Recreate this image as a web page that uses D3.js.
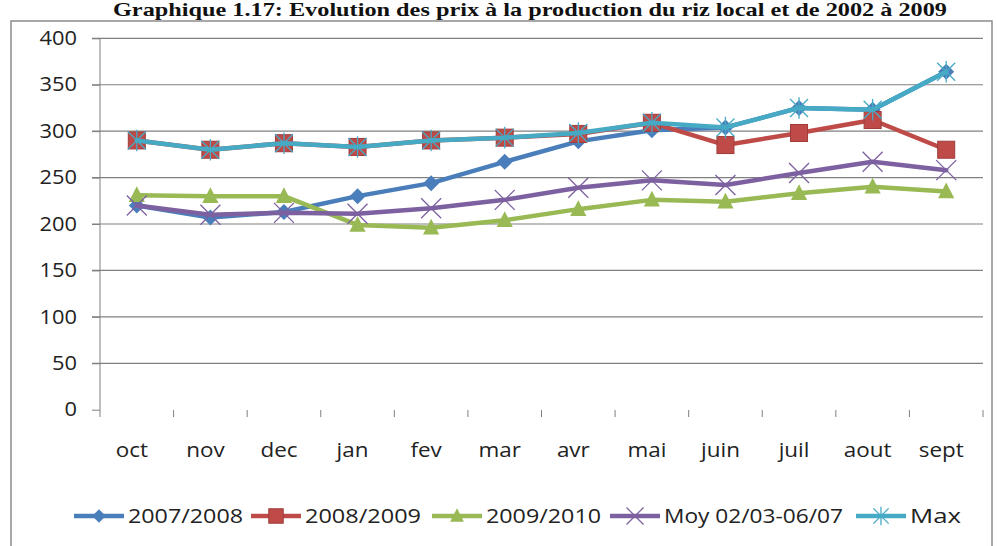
<!DOCTYPE html>
<html><head><meta charset="utf-8">
<script src="https://cdn.jsdelivr.net/npm/d3@7"></script>
<style>body{margin:0;background:#fff}svg{display:block}</style>
</head><body><svg id="c" width="997" height="546"></svg>
<script>
const months = ["oct","nov","dec","jan","fev","mar","avr","mai","juin","juil","aout","sept"];
const yTicks = [0,50,100,150,200,250,300,350,400];
const s2007 = [220,207,213,230,244,267,289,301,304,325,323,364];
const s2008 = [290,280,287,283,290,293,297,309,285,298,312,280];
const s2009 = [231,230,230,199,196,204,216,226,224,233,240,235];
const sMoy  = [220,210,212,211,217,226,239,247,242,255,267,258];
const sMax  = [290,280,287,283,290,293,298,309,304,325,323,364];
const seriesNames = ["2007/2008","2008/2009","2009/2010","Moy 02/03-06/07","Max"];
const seriesData = [s2007,s2008,s2009,sMoy,sMax];
const colors = ["#4A7EBB","#BE4B48","#98B954","#7D60A0","#46AAC5"];
const markers = ["diamond","square","triangle","x","star"];

const svg = d3.select("#c");
const font = "'Open Sans', sans-serif";
function stretch(sel, k){
  sel.each(function(){
    const w = this.getComputedTextLength();
    d3.select(this).attr("textLength", w*k).attr("lengthAdjust","spacingAndGlyphs");
  });
}

// title
const title = svg.append("text").attr("x",530).attr("y",16).attr("text-anchor","middle")
  .attr("font-family","'Liberation Serif', serif").attr("font-weight","bold").attr("font-size",19)
  .attr("fill","#111")
  .text("Graphique  1.17: Evolution des prix  à la production du riz local et  de 2002 à 2009");
title.attr("textLength",834).attr("lengthAdjust","spacingAndGlyphs");

// outer frame
svg.append("rect").attr("x",11).attr("y",21).attr("width",981).attr("height",540)
  .attr("fill","none").attr("stroke","#8c8c8c").attr("stroke-width",1.5);

const x = d3.scaleBand().domain(months).range([100,983]);
const y = d3.scaleLinear().domain([0,400]).range([409.7,38.3]);

// gridlines
svg.append("g").selectAll("line").data(yTicks.filter(d=>d>0)).join("line")
  .attr("x1",92).attr("x2",983).attr("y1",d=>y(d)).attr("y2",d=>y(d))
  .attr("stroke","#808080").attr("stroke-width",1.2);

// y axis
const yAxis = d3.axisLeft(y).tickValues(yTicks).tickSize(8).tickPadding(15);
const gy = svg.append("g").attr("transform","translate(100,0)").call(yAxis);
gy.select(".domain").attr("stroke","#808080").attr("d","M0,38.3V417");
gy.selectAll(".tick line").attr("stroke","#808080");
gy.selectAll(".tick text").attr("font-family",font).attr("font-size",19.5).attr("fill","#222");
stretch(gy.selectAll(".tick text"),1.12);

// x axis labels (no baseline)
const xAxis = d3.axisBottom(x).tickSize(0).tickPadding(0);
const gx = svg.append("g").attr("transform","translate(0,409.7)").call(xAxis);
gx.select(".domain").remove();
gx.selectAll(".tick text").attr("font-family",font).attr("font-size",19.5).attr("fill","#222")
  .attr("dy","0").attr("y",47).attr("dx",-5);
stretch(gx.selectAll(".tick text"),1.15);
svg.append("g").selectAll("line").data(months).join("line")
  .attr("x1",d=>x(d)+x.bandwidth()).attr("x2",d=>x(d)+x.bandwidth())
  .attr("y1",410).attr("y2",417).attr("stroke","#808080");

function drawMarker(g, type, col, cx, cy, scale){
  scale = scale||1;
  if(type==="diamond"){
    const r=8*scale;
    g.append("path").attr("d",`M${cx},${cy-r}L${cx+r},${cy}L${cx},${cy+r}L${cx-r},${cy}Z`).attr("fill",col);
  } else if(type==="square"){
    const r=8.5*scale;
    g.append("rect").attr("x",cx-r).attr("y",cy-r).attr("width",2*r).attr("height",2*r).attr("fill",col)
      .attr("stroke","#a03c3a").attr("stroke-width",1);
  } else if(type==="triangle"){
    const r=9*scale;
    g.append("path").attr("d",`M${cx},${cy-r}L${cx+r*0.9},${cy+r*0.75}L${cx-r*0.9},${cy+r*0.75}Z`).attr("fill",col);
  } else if(type==="x"){
    const r=10*scale;
    g.append("path").attr("d",`M${cx-r},${cy-r}L${cx+r},${cy+r}M${cx-r},${cy+r}L${cx+r},${cy-r}`)
      .attr("stroke",col).attr("stroke-width",1.3).attr("fill","none");
  } else if(type==="star"){
    const r=9*scale;
    g.append("path").attr("d",`M${cx-r},${cy-r}L${cx+r},${cy+r}M${cx-r},${cy+r}L${cx+r},${cy-r}M${cx},${cy-r*1.2}V${cy+r*1.2}`)
      .attr("stroke",col).attr("stroke-width",1.3).attr("fill","none");
  }
}

const line = d3.line().x((d,i)=>x(months[i])+x.bandwidth()/2).y(d=>y(d));
seriesData.forEach((data,si)=>{
  const g = svg.append("g");
  g.append("path").datum(data).attr("d",line).attr("fill","none")
    .attr("stroke",colors[si]).attr("stroke-width",4.5).attr("stroke-linejoin","round").attr("stroke-linecap","round");
  data.forEach((v,i)=>drawMarker(g,markers[si],colors[si],x(months[i])+x.bandwidth()/2,y(v),1));
});

// legend
const legX = [74,251,432,610,856];
const legW = [115,116,115,179,51];
const lg = svg.append("g");
seriesNames.forEach((n,i)=>{
  const lx=legX[i], ly=516;
  lg.append("line").attr("x1",lx).attr("x2",lx+50).attr("y1",ly).attr("y2",ly)
    .attr("stroke",colors[i]).attr("stroke-width",4.5);
  drawMarker(lg,markers[i],colors[i],lx+25,ly,0.85);
  lg.append("text").attr("x",lx+54).attr("y",ly).attr("dy","0.35em")
    .attr("font-family",font).attr("font-size",20).attr("fill","#222")
    .attr("textLength",legW[i]).attr("lengthAdjust","spacingAndGlyphs").text(n);
});
</script></body></html>
